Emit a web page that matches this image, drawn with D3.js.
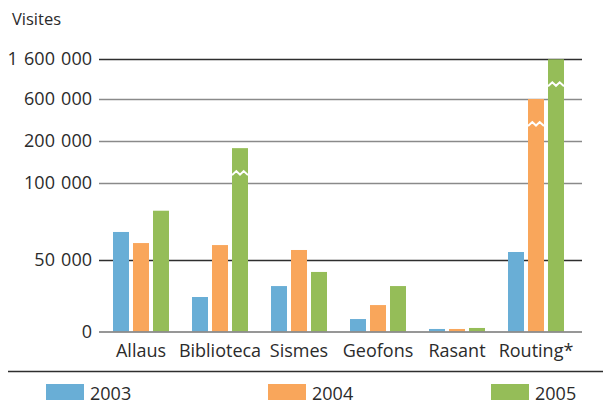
<!DOCTYPE html>
<html>
<head>
<meta charset="utf-8">
<script src="https://cdn.jsdelivr.net/npm/d3@7"></script>
<style>
  html, body { margin: 0; padding: 0; background: #fff; }
  svg { display: block; }
  text { font-family: "Open Sans", "Noto Sans", sans-serif; fill: #2b2b2b; }
</style>
</head>
<body>
<svg id="chart" width="603" height="404"></svg>
<script>
// Visits per service and year
const categories = ["Allaus", "Biblioteca", "Sismes", "Geofons", "Rasant", "Routing*"];
const years = ["2003", "2004", "2005"];
const visits2003 = [68200, 24300, 31900, 9000, 2100, 55200];
const visits2004 = [61000, 59700, 56500, 18700, 2100, 600000];
const visits2005 = [82000, 183000, 41700, 31900, 2800, 1580000];
const yTicks = [0, 50000, 100000, 200000, 600000, 1600000];
const yTickLabels = ["0", "50 000", "100 000", "200 000", "600 000", "1 600 000"];
const colors = ["#69aed6", "#f9a65b", "#95bd58"];

const series = [visits2003, visits2004, visits2005];

const svg = d3.select("#chart");

// Broken value axis: each segment between ticks gets its own span
const y = d3.scaleLinear()
  .domain(yTicks)
  .range([332, 260, 183, 141, 99, 58.5]);

const x = d3.scaleBand()
  .domain(categories)
  .range([101.5, 575.5])
  .padding(0);

const groupWidth = 56;
const xInner = d3.scaleBand()
  .domain(years)
  .range([0, groupWidth])
  .paddingInner(0.2)
  .paddingOuter(0);

// Gridlines
const darkTicks = new Set([50000, 1600000]);
svg.append("g")
  .selectAll("line")
  .data(yTicks.filter(d => d > 0))
  .join("line")
  .attr("x1", 99)
  .attr("x2", 582)
  .attr("y1", d => Math.round(y(d)) + 0.5)
  .attr("y2", d => Math.round(y(d)) + 0.5)
  .attr("stroke", d => darkTicks.has(d) ? "#2e2e2e" : "#8a8a8a")
  .attr("stroke-width", 1.3);

// Y tick labels
svg.append("g")
  .selectAll("text")
  .data(yTicks)
  .join("text")
  .attr("x", 92)
  .attr("y", d => y(d))
  .attr("dy", "0.35em")
  .attr("text-anchor", "end")
  .attr("font-size", 18)
  .attr("word-spacing", 1.5)
  .text((d, i) => yTickLabels[i]);

// Axis title
svg.append("text")
  .attr("x", 12)
  .attr("y", 25)
  .attr("font-size", 16.5)
  .text("Visites");

// Bars
const groups = svg.append("g")
  .selectAll("g")
  .data(categories)
  .join("g")
  .attr("transform", d => `translate(${x(d) + x.bandwidth() / 2 - groupWidth / 2},0)`);

const barData = (c, ci) => years.map((yr, si) => ({ year: yr, value: series[si][ci], color: colors[si] }));

groups.selectAll("rect")
  .data((c, ci) => barData(c, ci))
  .join("rect")
  .attr("x", d => xInner(d.year))
  .attr("width", xInner.bandwidth())
  .attr("y", d => y(d.value))
  .attr("height", d => y(0) - y(d.value))
  .attr("fill", d => d.color);

// Break marks on bars that run past the 100 000 segment
groups.selectAll("path.break")
  .data((c, ci) => barData(c, ci).filter(d => d.value > 100000))
  .join("path")
  .attr("class", "break")
  .attr("d", d => {
    const x0 = xInner(d.year), w = xInner.bandwidth();
    const yb = y(d.value) + 25;
    return `M${x0},${yb + 2} L${x0 + w * 0.27},${yb - 2} L${x0 + w * 0.5},${yb + 1.5} L${x0 + w * 0.73},${yb - 2} L${x0 + w},${yb + 2}`;
  })
  .attr("fill", "none")
  .attr("stroke", "#fff")
  .attr("stroke-width", 2);

// Baseline
svg.append("line")
  .attr("x1", 99)
  .attr("x2", 582)
  .attr("y1", y(0))
  .attr("y2", y(0))
  .attr("stroke", "#8c8c8c")
  .attr("stroke-opacity", 0.9)
  .attr("stroke-width", 2);

// Category labels
svg.append("g")
  .selectAll("text")
  .data(categories)
  .join("text")
  .attr("x", d => x(d) + x.bandwidth() / 2)
  .attr("y", 357)
  .attr("text-anchor", "middle")
  .attr("font-size", 18)
  .text(d => d);

// Separator above legend
svg.append("line")
  .attr("x1", 8)
  .attr("x2", 603)
  .attr("y1", 371.5)
  .attr("y2", 371.5)
  .attr("stroke", "#2e2e2e")
  .attr("stroke-width", 1.3);

// Legend
const legendX = [46, 268, 491];
const legend = svg.append("g")
  .selectAll("g")
  .data(years)
  .join("g")
  .attr("transform", (d, i) => `translate(${legendX[i]},0)`);

legend.append("rect")
  .attr("x", 0)
  .attr("y", 384)
  .attr("width", 38)
  .attr("height", 16)
  .attr("fill", (d, i) => colors[i]);

legend.append("text")
  .attr("x", 44)
  .attr("y", 399.5)
  .attr("font-size", 18)
  .text(d => d);
</script>
</body>
</html>
